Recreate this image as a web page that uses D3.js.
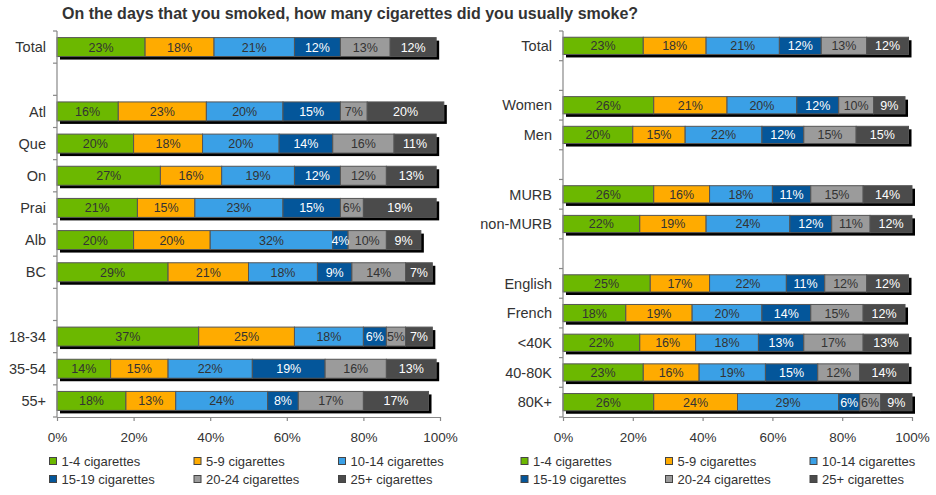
<!DOCTYPE html>
<html>
<head>
<meta charset="utf-8">
<script src="https://cdn.jsdelivr.net/npm/d3@7"></script>
<style>
  html, body { margin: 0; padding: 0; background: #fff; }
  svg text { font-family: Arial, "Liberation Sans", sans-serif; }
</style>
</head>
<body>
<svg id="chart" width="936" height="495"></svg>
<script>
const title = "On the days that you smoked, how many cigarettes did you usually smoke?";
const seriesNames = ["1-4 cigarettes", "5-9 cigarettes", "10-14 cigarettes", "15-19 cigarettes", "20-24 cigarettes", "25+ cigarettes"];
const seriesColors = ["#6cb800", "#ffab00", "#3aa0e6", "#04569a", "#9b9b9b", "#4b4b4b"];
const seriesTextColors = ["#333", "#333", "#333", "#fff", "#333", "#fff"];
const xTicks = [0, 20, 40, 60, 80, 100];

// Left panel: region & age (null rows are gaps)
const leftCategories = ["Total", "gapA", "Atl", "Que", "On", "Prai", "Alb", "BC", "gapB", "18-34", "35-54", "55+"];
const leftValues = [
  [23, 18, 21, 12, 13, 12],
  null,
  [16, 23, 20, 15, 7, 20],
  [20, 18, 20, 14, 16, 11],
  [27, 16, 19, 12, 12, 13],
  [21, 15, 23, 15, 6, 19],
  [20, 20, 32, 4, 10, 9],
  [29, 21, 18, 9, 14, 7],
  null,
  [37, 25, 18, 6, 5, 7],
  [14, 15, 22, 19, 16, 13],
  [18, 13, 24, 8, 17, 17]
];

// Right panel: sex, dwelling, language, income
const rightCategories = ["Total", "gapA", "Women", "Men", "gapB", "MURB", "non-MURB", "gapC", "English", "French", "<40K", "40-80K", "80K+"];
const rightValues = [
  [23, 18, 21, 12, 13, 12],
  null,
  [26, 21, 20, 12, 10, 9],
  [20, 15, 22, 12, 15, 15],
  null,
  [26, 16, 18, 11, 15, 14],
  [22, 19, 24, 12, 11, 12],
  null,
  [25, 17, 22, 11, 12, 12],
  [18, 19, 20, 14, 15, 12],
  [22, 16, 18, 13, 17, 13],
  [23, 16, 19, 15, 12, 14],
  [26, 24, 29, 6, 6, 9]
];

const svg = d3.select("#chart");

svg.append("text")
  .attr("x", 62).attr("y", 19)
  .attr("font-size", 16).attr("font-weight", "bold").attr("fill", "#333")
  .text(title);

function panel(cats, vals, x0, x1, barPad, legendX) {
  const g = svg.append("g");
  const x = d3.scaleLinear().domain([0, 100]).range([x0, x1]);
  const y = d3.scaleBand().domain(cats).range([31, 417]).paddingInner(barPad).paddingOuter(barPad / 2);
  const bh = y.bandwidth();

  const rows = cats.map((c, i) => ({ cat: c, vals: vals[i] })).filter(r => r.vals);

  // stacked segments
  rows.forEach(r => {
    let acc = 0;
    r.segs = r.vals.map((v, k) => { const s = { k, v, a: acc, b: acc + v }; acc += v; return s; });
    r.total = acc;
  });

  // shadows
  g.selectAll("rect.shadow").data(rows).join("rect")
    .attr("class", "shadow")
    .attr("x", d => x(0) + 3).attr("y", d => y(d.cat) + 3)
    .attr("width", d => x(d.total) - x(0)).attr("height", bh)
    .attr("fill", "#000");

  const rg = g.selectAll("g.row").data(rows).join("g").attr("class", "row")
    .attr("transform", d => `translate(0,${y(d.cat)})`);

  rg.selectAll("rect.seg").data(d => d.segs).join("rect")
    .attr("class", "seg")
    .attr("x", d => x(d.a)).attr("y", 0)
    .attr("width", d => x(d.b) - x(d.a)).attr("height", bh)
    .attr("fill", d => seriesColors[d.k])
    .attr("stroke", "#555").attr("stroke-width", 1);

  rg.selectAll("text.val").data(d => d.segs).join("text")
    .attr("class", "val")
    .attr("x", d => (x(d.a) + x(d.b)) / 2).attr("y", bh / 2)
    .attr("dy", "0.36em")
    .attr("text-anchor", "middle")
    .attr("font-size", 12.5)
    .attr("fill", d => seriesTextColors[d.k])
    .text(d => d.v + "%");

  // y axis (ticks at band boundaries)
  const step = y.step();
  const top = y.range()[0];
  const bounds = d3.range(cats.length + 1).map(i => top + i * step);
  g.append("line").attr("x1", x0).attr("x2", x0).attr("y1", top).attr("y2", 417)
    .attr("stroke", "#888").attr("stroke-width", 1.2);
  g.selectAll("line.ytick").data(bounds).join("line").attr("class", "ytick")
    .attr("x1", x0 - 4).attr("x2", x0).attr("y1", d => d).attr("y2", d => d)
    .attr("stroke", "#888").attr("stroke-width", 1.2);

  g.selectAll("text.ylab").data(rows).join("text").attr("class", "ylab")
    .attr("x", x0 - 11).attr("y", d => y(d.cat) + bh / 2).attr("dy", "0.36em")
    .attr("text-anchor", "end").attr("font-size", 14.5).attr("fill", "#333")
    .text(d => d.cat);

  // x axis
  const xa = g.append("g").attr("transform", "translate(0,417)")
    .call(d3.axisBottom(x).tickValues(xTicks).tickFormat(d => d + "%").tickSize(4).tickPadding(11).tickSizeOuter(0));
  xa.select(".domain").attr("stroke", "#888").attr("stroke-width", 1.2);
  xa.selectAll(".tick line").attr("stroke", "#888").attr("stroke-width", 1.2);
  xa.selectAll(".tick text").attr("font-size", 13.5).attr("fill", "#333")
    .style("font-family", "Arial, 'Liberation Sans', sans-serif");

  // legend
  const lg = g.selectAll("g.leg").data(seriesNames).join("g").attr("class", "leg")
    .attr("transform", (d, i) => `translate(${legendX + (i % 3) * 144.5},${i < 3 ? 461 : 479})`);
  lg.append("rect").attr("x", 0).attr("y", -3.5).attr("width", 7).attr("height", 7)
    .attr("fill", (d, i) => seriesColors[i]).attr("stroke", "#444").attr("stroke-width", 1);
  lg.append("text").attr("x", 12).attr("y", 0).attr("dy", "0.36em")
    .attr("font-size", 13).attr("fill", "#333").text(d => d);
}

panel(leftCategories, leftValues, 57, 440, 0.41, 49.5);
panel(rightCategories, rightValues, 563, 912, 0.42, 521);
</script>
</body>
</html>
